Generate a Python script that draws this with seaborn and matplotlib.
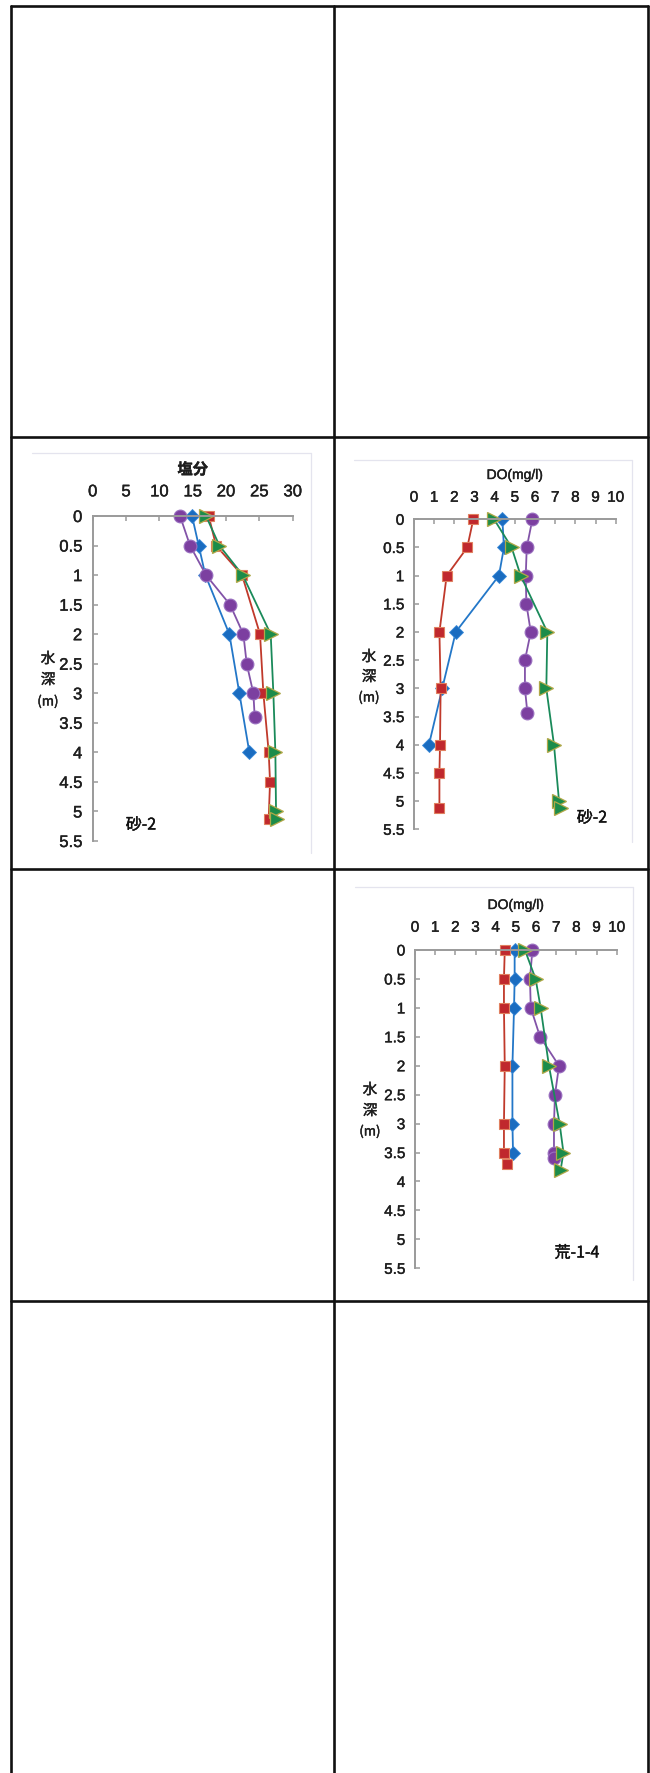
import matplotlib
matplotlib.use("Agg")
import matplotlib.pyplot as plt
import matplotlib.patheffects as pe
import seaborn as sns
from matplotlib.lines import Line2D

sns.set_theme(style="white")
plt.rcParams['font.family'] = ['Liberation Sans', 'Noto Sans CJK JP']

# ---------------- data ----------------
# Chart A: salinity, 砂-2
sal_depth_blue = [0, 0.5, 1.0, 2.0, 3.0, 4.0]
sal_blue = [14.9, 15.9, 16.9, 20.5, 22.0, 23.5]
sal_depth_red = [0, 0.5, 1.0, 2.0, 3.0, 4.0, 4.5, 5.12]
sal_red = [17.4, 18.5, 22.4, 25.1, 25.6, 26.4, 26.6, 26.4]
sal_depth_green = [0, 0.5, 1.0, 2.0, 3.0, 4.0, 5.0, 5.12]
sal_green = [17.0, 19.0, 22.5, 26.7, 27.1, 27.4, 27.5, 27.6]
sal_depth_purple = [0, 0.5, 1.0, 1.5, 2.0, 2.5, 3.0, 3.4]
sal_purple = [13.1, 14.6, 17.0, 20.6, 22.6, 23.1, 24.1, 24.3]

# Chart B: DO, 砂-2
do1_depth_blue = [0, 0.5, 1.0, 2.0, 3.0, 4.0]
do1_blue = [4.38, 4.46, 4.21, 2.07, 1.40, 0.74]
do1_depth_red = [0, 0.5, 1.0, 2.0, 3.0, 4.0, 4.5, 5.12]
do1_red = [2.94, 2.64, 1.62, 1.26, 1.32, 1.29, 1.26, 1.26]
do1_depth_green = [0, 0.5, 1.0, 2.0, 3.0, 4.0, 5.0, 5.12]
do1_green = [3.97, 4.84, 5.29, 6.61, 6.56, 6.94, 7.19, 7.27]
do1_depth_purple = [0, 0.5, 1.0, 1.5, 2.0, 2.5, 3.0, 3.43]
do1_purple = [5.87, 5.59, 5.54, 5.57, 5.79, 5.50, 5.50, 5.62]

# Chart C: DO, 荒-1-4
do2_depth_blue = [0, 0.5, 1.0, 2.0, 3.0, 3.5]
do2_blue = [4.94, 4.94, 4.91, 4.83, 4.83, 4.86]
do2_depth_red = [0, 0.5, 1.0, 2.0, 3.0, 3.5, 3.7]
do2_red = [4.45, 4.41, 4.41, 4.45, 4.41, 4.41, 4.58]
do2_depth_green = [0, 0.5, 1.0, 2.0, 3.0, 3.5, 3.8]
do2_green = [5.45, 5.98, 6.23, 6.64, 7.17, 7.36, 7.22]
do2_depth_purple = [0, 0.5, 1.0, 1.5, 2.0, 2.5, 3.0, 3.5, 3.6]
do2_purple = [5.82, 5.70, 5.74, 6.20, 7.14, 6.94, 6.89, 6.89, 6.89]

depth_ticks = [0, 0.5, 1, 1.5, 2, 2.5, 3, 3.5, 4, 4.5, 5, 5.5]
depth_labels = ["0", "0.5", "1", "1.5", "2", "2.5", "3", "3.5", "4", "4.5", "5", "5.5"]
sal_ticks = [0, 5, 10, 15, 20, 25, 30]
do_ticks = [0, 1, 2, 3, 4, 5, 6, 7, 8, 9, 10]

# ---------------- layout helpers ----------------
W, H = 650, 1773
fig = plt.figure(figsize=(W / 100, H / 100), dpi=100)


def fx(x):
    return x / W


def fy(y):
    return 1 - y / H


CJK = ['Noto Sans CJK JP', 'DejaVu Sans']
TXT = "#1e1e1e"
THICK = [pe.withStroke(linewidth=0.3, foreground=TXT)]

# table grid
grid_kw = dict(color="#111111", lw=1.9, transform=fig.transFigure, zorder=10)
for xv in [11, 334, 648]:
    fig.add_artist(Line2D([fx(xv), fx(xv)], [fy(6), fy(H + 5)], **grid_kw))
for yv in [6, 437, 869, 1301]:
    fig.add_artist(Line2D([fx(11), fx(648)], [fy(yv), fy(yv)], **grid_kw))

STY = {
    "blue": dict(color="#2377c8", marker="D", ms=6.8, mfc="#1a6cc0", mec="#3a8ad8", mew=0.6),
    "red": dict(color="#c0392b", marker="s", ms=7.8, mfc="#c0282d", mec="#e08060", mew=0.8),
    "purple": dict(color="#8253a8", marker="o", ms=9.2, mfc="#7c3fa0", mec="#9a70c0", mew=0.8),
    "green": dict(color="#1a8a5a", marker=">", ms=10, mfc="#1c8c4a", mec="#b0a848", mew=0.9),
}


def make_chart(left, right, top, bottom, xmax, xticks, series, title, title_y,
               label, label_xy, ylab_x, ylab_y, frame, tsize, xpad, ypad, title_size,
               title_bold):
    ax = fig.add_axes([fx(left), fy(bottom), fx(right) - fx(left), fy(top) - fy(bottom)])
    ax.set_facecolor("none")
    for key, xs, ys in series:
        st = STY[key]
        sns.lineplot(x=xs, y=ys, ax=ax, sort=False, estimator=None,
                     color=st["color"], lw=1.3, marker=st["marker"], ms=st["ms"],
                     markerfacecolor=st["mfc"], markeredgecolor=st["mec"],
                     markeredgewidth=st["mew"], clip_on=False)
    ax.set_xlim(0, xmax)
    ax.set_ylim(5.5, 0)
    ax.xaxis.tick_top()
    ax.set_xticks(xticks)
    ax.set_xticklabels([str(t) for t in xticks])
    ax.set_yticks(depth_ticks)
    ax.set_yticklabels(depth_labels)
    ax.set_xlabel("")
    ax.set_ylabel("")
    for s in ["right", "bottom"]:
        ax.spines[s].set_visible(False)
    for s in ["top", "left"]:
        ax.spines[s].set_color("#9a9a9a")
        ax.spines[s].set_linewidth(1.4)
    ax.tick_params(axis="x", which="both", top=True, bottom=False, direction="in",
                   length=3.8, width=1.1, color="#9a9a9a", pad=xpad,
                   labelsize=tsize, labelcolor=TXT)
    ax.tick_params(axis="y", which="both", left=True, direction="in",
                   length=3.8, width=1.1, color="#9a9a9a", pad=ypad,
                   labelsize=tsize, labelcolor=TXT)
    for t in ax.get_xticklabels() + ax.get_yticklabels():
        t.set_path_effects(THICK)
    ax.grid(False)
    cx = (left + right) / 2
    fig.text(fx(cx), fy(title_y), title, ha="center", va="center",
             fontsize=title_size, color=TXT,
             fontweight="bold" if title_bold else "normal", path_effects=THICK)
    fig.text(fx(label_xy[0]), fy(label_xy[1]), label, ha="center", va="center",
             fontsize=11.5, color="#111111", family=CJK,
             path_effects=[pe.withStroke(linewidth=0.3, foreground="#111111")])
    for txt, yy, fs in zip(["水", "深", "(m)"], ylab_y, [10.5, 10.5, 9.5]):
        fig.text(fx(ylab_x), fy(yy), txt, ha="center", va="center", fontsize=fs,
                 color=TXT, family=CJK, path_effects=THICK)
    # light outer chart frame (top & right)
    fl, ft, fr, fb = frame
    fkw = dict(color="#e4e4ee", lw=0.9, transform=fig.transFigure, zorder=0)
    fig.add_artist(Line2D([fx(fl), fx(fr)], [fy(ft), fy(ft)], **fkw))
    fig.add_artist(Line2D([fx(fr), fx(fr)], [fy(ft), fy(fb)], **fkw))
    return ax


make_chart(92.7, 292.7, 516, 841, 30, sal_ticks,
           [("blue", sal_blue, sal_depth_blue), ("red", sal_red, sal_depth_red),
            ("purple", sal_purple, sal_depth_purple), ("green", sal_green, sal_depth_green)],
           "塩分", 470, "砂-2", (141, 825), 48, [659, 680, 702],
           (32, 453, 310.5, 853), 12, 12, 7.5, 11, True)

make_chart(414, 615.7, 519.3, 829.3, 10, do_ticks,
           [("blue", do1_blue, do1_depth_blue), ("red", do1_red, do1_depth_red),
            ("purple", do1_purple, do1_depth_purple), ("green", do1_green, do1_depth_green)],
           "DO(mg/l)", 475, "砂-2", (592, 818), 369, [657, 677, 698],
           (354, 460, 631.5, 842), 11, 10.5, 7, 10, False)

make_chart(415, 616.7, 950, 1268.3, 10, do_ticks,
           [("blue", do2_blue, do2_depth_blue), ("red", do2_red, do2_depth_red),
            ("purple", do2_purple, do2_depth_purple), ("green", do2_green, do2_depth_green)],
           "DO(mg/l)", 905, "荒-1-4", (577, 1253), 370, [1090, 1111, 1132],
           (355, 887, 633, 1280), 11, 11, 7, 10, False)

fig.savefig("out.png", dpi=100)
